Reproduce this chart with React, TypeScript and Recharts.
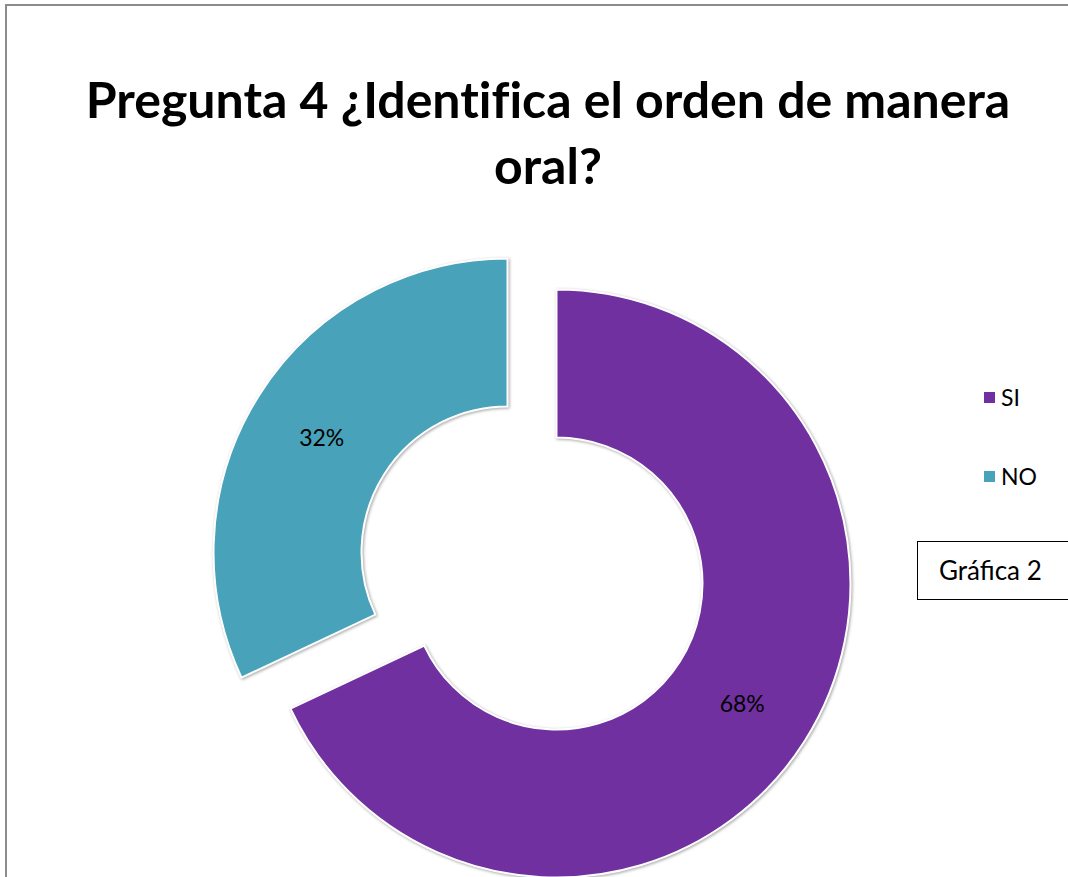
import React from 'react';
import { PieChart, Pie, Cell, Sector, Legend } from 'recharts';

const categories = ['SI', 'NO'];
const values = [68, 32];
const colors = ['#7030A0', '#48A2B9'];
const titleLines = ['Pregunta 4 ¿Identifica el orden de manera', 'oral?'];

const data = categories.map((name, i) => ({ name, value: values[i] }));

const RAD = Math.PI / 180;
const EXPLODE = 29;
const FONT = 'Lato, Carlito, Calibri, sans-serif';

const offset = (midAngle: number, r: number) => ({
  x: r * Math.cos(-midAngle * RAD),
  y: r * Math.sin(-midAngle * RAD),
});

const renderShape = (props: any) => {
  const o = offset(props.midAngle, EXPLODE);
  return (
    <Sector
      {...props}
      cx={props.cx + o.x}
      cy={props.cy + o.y}
      stroke="#ffffff"
      strokeWidth={2}
      style={{ filter: 'drop-shadow(1px 1px 1.5px rgba(0,0,0,0.35))' }}
    />
  );
};

const renderLabel = (props: any) => {
  const { cx, cy, midAngle, innerRadius, outerRadius, percent } = props;
  const o = offset(midAngle, EXPLODE);
  const p = offset(midAngle, (innerRadius + outerRadius) / 2);
  return (
    <text
      x={cx + o.x + p.x}
      y={cy + o.y + p.y + 2}
      textAnchor="middle"
      dominantBaseline="central"
      fill="#000"
      fontSize={23}
      fontFamily={FONT}
    >
      {`${Math.round(percent * 100)}%`}
    </text>
  );
};

const renderLegend = (props: any) => {
  const payload = [...(props.payload || [])].sort(
    (a: any, b: any) => categories.indexOf(a.value) - categories.indexOf(b.value)
  );
  return (
    <div style={{ fontFamily: FONT }}>
      {payload.map((entry: any, i: number) => (
        <div
          key={i}
          style={{ display: 'flex', alignItems: 'center', height: 26, marginBottom: i === 0 ? 53 : 0 }}
        >
          <span style={{ display: 'inline-block', width: 11, height: 11, background: entry.color, marginRight: 6 }} />
          <span style={{ fontSize: 23, color: '#000' }}>{entry.value}</span>
        </div>
      ))}
    </div>
  );
};

export default function App() {
  return (
    <div style={{ position: 'absolute', left: 0, top: 0, width: 1068, height: 877, background: '#fff', overflow: 'hidden' }}>
      <div
        style={{
          position: 'absolute',
          left: 5,
          top: 4,
          width: 1080,
          height: 900,
          borderTop: '2px solid #8c8c8c',
          borderLeft: '2px solid #8c8c8c',
        }}
      />
      <div
        style={{
          position: 'absolute',
          left: 0,
          top: 66,
          width: 1096,
          textAlign: 'center',
          fontFamily: FONT,
          fontWeight: 'bold',
          fontSize: 50,
          lineHeight: '66px',
          color: '#000',
          fontVariantLigatures: 'none',
        }}
      >
        {titleLines.map((t, i) => (
          <div key={i}>{t}</div>
        ))}
      </div>
      <div style={{ position: 'absolute', left: 0, top: 0 }}>
        <PieChart width={1068} height={877} margin={{ top: 0, right: 0, bottom: 0, left: 0 }}>
          <Pie
            data={data}
            dataKey="value"
            nameKey="name"
            cx={532}
            cy={568}
            innerRadius={146}
            outerRadius={294}
            startAngle={90}
            endAngle={-270}
            isAnimationActive={false}
            shape={renderShape}
            label={renderLabel}
            labelLine={false}
          >
            {data.map((d, i) => (
              <Cell key={d.name} fill={colors[i]} />
            ))}
          </Pie>
          <Legend
            content={renderLegend}
            wrapperStyle={{ position: 'absolute', left: 984, top: 384, width: 80 }}
          />
        </PieChart>
      </div>
      <div
        style={{
          position: 'absolute',
          left: 917,
          top: 541,
          width: 170,
          height: 59,
          border: '1.5px solid #000',
          fontFamily: FONT,
          fontSize: 26,
          lineHeight: '56px',
          paddingLeft: 21,
          boxSizing: 'border-box',
          color: '#000',
        }}
      >
        Gráfica 2
      </div>
    </div>
  );
}
